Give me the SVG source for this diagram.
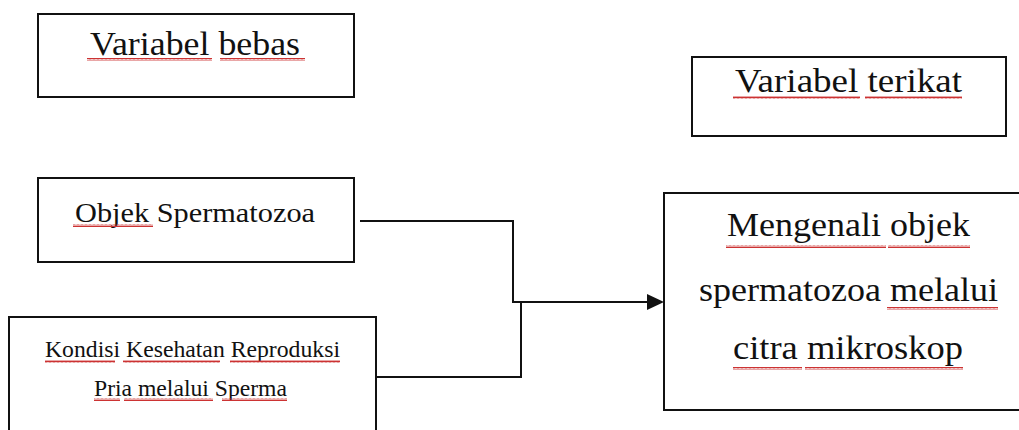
<svg xmlns="http://www.w3.org/2000/svg" width="1019" height="430" viewBox="0 0 1019 430">
<style>
.box{fill:#fff;stroke:#111;stroke-width:2}
.con{fill:none;stroke:#111;stroke-width:2}
.sq{fill:url(#wave)}
</style>
<defs>
<pattern id="wave" width="4" height="3" patternUnits="userSpaceOnUse">
<path d="M0,2.5 L1,0.5 L2,2.5 L3,0.5 L4,2.5" fill="none" stroke="#cc3333" stroke-width="1"/>
</pattern>
</defs>
<rect width="1019" height="430" fill="#fff"/>
<g id="connectors">
<path class="con" d="M360,221 H513 V302 H655"/>
<path class="con" d="M377,377 H521 V302"/>
<path d="M647,294 L664,302 L647,310 Z" fill="#111"/>
</g>
<g font-family="Liberation Serif, Times New Roman, DejaVu Serif, serif" fill="#111">
<g id="node-variabel-bebas">
<rect class="box" x="38" y="14" width="316" height="83"/>
<text x="90" y="55" font-size="34" textLength="210" lengthAdjust="spacingAndGlyphs">Variabel bebas</text>
<rect class="sq" x="87" y="58" width="125" height="3"/>
<rect class="sq" x="220" y="58" width="85" height="3"/>
</g>
<g id="node-variabel-terikat">
<rect class="box" x="692" y="57" width="314" height="79"/>
<text x="735" y="92" font-size="34" textLength="227" lengthAdjust="spacingAndGlyphs">Variabel terikat</text>
<rect class="sq" x="733" y="96" width="127" height="3"/>
<rect class="sq" x="865" y="96" width="97" height="3"/>
</g>
<g id="node-objek">
<rect class="box" x="38" y="178" width="316" height="84"/>
<text x="75" y="222" font-size="28" textLength="240" lengthAdjust="spacingAndGlyphs">Objek Spermatozoa</text>
<rect class="sq" x="73" y="224" width="80" height="3"/>
</g>
<g id="node-kondisi">
<rect class="box" x="9" y="317" width="367" height="130"/>
<text x="45" y="357" font-size="24" textLength="295" lengthAdjust="spacingAndGlyphs">Kondisi Kesehatan Reproduksi</text>
<text x="94" y="396" font-size="24" textLength="193" lengthAdjust="spacingAndGlyphs">Pria melalui Sperma</text>
<rect class="sq" x="45" y="360" width="70" height="3"/>
<rect class="sq" x="123" y="360" width="97" height="3"/>
<rect class="sq" x="230" y="360" width="110" height="3"/>
<rect class="sq" x="94" y="398" width="26" height="3"/>
<rect class="sq" x="124" y="398" width="89" height="3"/>
<rect class="sq" x="222" y="398" width="65" height="3"/>
</g>
<g id="node-mengenali">
<rect class="box" x="664" y="193" width="370" height="217"/>
<text x="727" y="236" font-size="34" textLength="243" lengthAdjust="spacingAndGlyphs">Mengenali objek</text>
<text x="699" y="301" font-size="34" textLength="299" lengthAdjust="spacingAndGlyphs">spermatozoa melalui</text>
<text x="733" y="359" font-size="34" textLength="230" lengthAdjust="spacingAndGlyphs">citra mikroskop</text>
<rect class="sq" x="726" y="245" width="160" height="3"/>
<rect class="sq" x="888" y="245" width="82" height="3"/>
<rect class="sq" x="887" y="307" width="111" height="3"/>
<rect class="sq" x="733" y="367" width="69" height="3"/>
<rect class="sq" x="805" y="367" width="158" height="3"/>
</g>
</g>
</svg>
